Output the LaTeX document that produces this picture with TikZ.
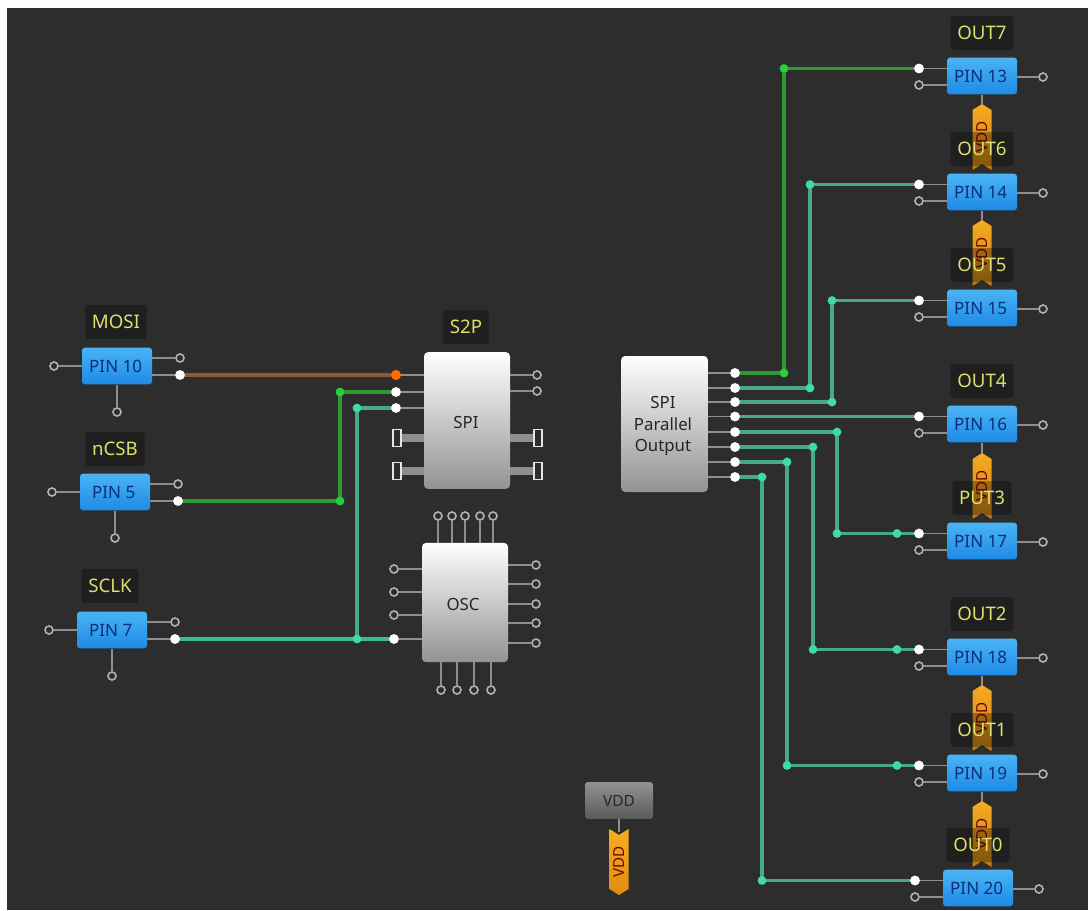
\documentclass[tikz,border=0pt]{standalone}
\usepackage{fontspec}
\setmainfont{Noto Sans}
\pgfdeclarelayer{wires}
\pgfdeclarelayer{labels}
\pgfsetlayers{wires,main,labels}
\definecolor{bgc}{HTML}{2D2D2D}
\definecolor{yel}{HTML}{DDE06A}
\definecolor{pinblue}{HTML}{0B2F78}
\definecolor{pintop}{HTML}{4AB4F4}
\definecolor{pinbot}{HTML}{1E8AE6}
\definecolor{hollow}{HTML}{B4B4B4}
\definecolor{stubc}{HTML}{8E8E8E}
\definecolor{teal}{HTML}{46A98A}
\definecolor{tealdot}{HTML}{3FDC9C}
\definecolor{sclk}{HTML}{38BE8C}
\definecolor{greenw}{HTML}{2E9A33}
\definecolor{greendot}{HTML}{25D03A}
\definecolor{brownw}{HTML}{8C5A34}
\definecolor{tagtop}{HTML}{F8AC22}
\definecolor{tagbot}{HTML}{C07C12}
\definecolor{tagbotb}{HTML}{E08C12}
\tikzset{
  x=0.75pt,y=-0.75pt,
  pinbox/.style={rectangle,rounded corners=2.2pt,minimum width=52.5pt,minimum height=27.5pt,inner sep=0pt,
    top color=pintop,bottom color=pinbot,text=pinblue,font=\fontsize{12.8}{14}\selectfont},
  greybox/.style={rectangle,rounded corners=3pt,inner sep=0pt,top color=white,bottom color=gray!85},
  blocktext/.style={inner sep=0pt,text=black!85,align=center,font=\fontsize{12.6}{16.2}\selectfont},
  vddbox/.style={rectangle,rounded corners=2pt,inner sep=0pt,minimum width=51pt,minimum height=27.5pt,
    top color=gray!85,bottom color=gray!70!black,text=black!85,font=\fontsize{11.6}{14}\selectfont},
  hport/.style={circle,inner sep=0pt,minimum size=6pt,draw=hollow,line width=1.2pt,fill=bgc},
  wport/.style={circle,inner sep=0pt,minimum size=7.4pt,fill=white},
  oport/.style={circle,inner sep=0pt,minimum size=7.6pt,fill=orange!85!red},
  rport/.style={rectangle,inner sep=0pt,minimum width=6pt,minimum height=13pt,draw=white!90!black,line width=0.9pt,fill=bgc},
  stub/.style={draw=stubc,line width=1.1pt},
  fatstub/.style={draw=stubc,line width=6pt},
  wire/.style={line width=2.4pt,draw=#1},
  jdot/.style={circle,inner sep=0pt,minimum size=6.6pt,fill=#1},
  lbl/.style={rectangle,rounded corners=2pt,fill=black,fill opacity=0.3,text opacity=1,text=yel,
    minimum height=25.5pt,inner xsep=5pt,font=\fontsize{14}{15}\selectfont},
  tagtext/.style={rotate=90,text=red!45!black,inner sep=0pt,font=\fontsize{11.4}{13}\selectfont},
}
\newcommand{\pintext}[1]{\raisebox{-1.2pt}{\hspace{-2pt}#1}}
% left pin: id, cx, cy, text, label, label x, label y
\newcommand{\leftpin}[7]{%
  \node[hport] (#1L) at (#2-63,#3) {};
  \node[hport] (#1A) at (#2+63,#3-8) {};
  \node[wport] (#1B) at (#2+63,#3+9) {};
  \node[hport] (#1D) at (#2,#3+46) {};
  \node[pinbox] (#1) at (#2,#3) {\pintext{#4}};
  \begin{pgfonlayer}{wires}
    \draw[stub] (#1L) -- (#1);
    \draw[stub] (#1A) -- (#1A -| #1.east);
    \draw[stub] (#1B) -- (#1B -| #1.east);
    \draw[stub] (#1D) -- (#1);
  \end{pgfonlayer}
  \begin{pgfonlayer}{labels}\node[lbl] (#1T) at (#6,#7) {#5};\end{pgfonlayer}
}
% right pin: id, cx, cy, text, label
\newcommand{\rightpin}[5]{%
  \node[wport] (#1A) at (#2-63,#3-7.5) {};
  \node[hport] (#1B) at (#2-63,#3+9) {};
  \node[hport] (#1R) at (#2+61,#3+1) {};
  \node[pinbox] (#1) at (#2,#3) {\pintext{#4}};
  \begin{pgfonlayer}{wires}
    \draw[stub] (#1A) -- (#1A -| #1.west);
    \draw[stub] (#1B) -- (#1B -| #1.west);
    \draw[stub] (#1R) -- (#1R -| #1.east);
  \end{pgfonlayer}
  \begin{pgfonlayer}{labels}\node[lbl] (#1T) at (#2,#3-43) {#5};\end{pgfonlayer}
}
% downward tag below a pin: pin id, cx, top y
\newcommand{\vddtag}[3]{%
  \shade[top color=tagtop,bottom color=tagbot]
    (#2-9.5,#3+6) -- (#2,#3) -- (#2+9.5,#3+6) -- (#2+9.5,#3+66) -- (#2,#3+60) -- (#2-9.5,#3+66) -- cycle;
  \coordinate (#1tagtop) at (#2,#3);
  \node[tagtext] (#1tagtext) at (#2,#3+33) {VDD};
  \begin{pgfonlayer}{wires}\draw[stub] (#1) -- (#1tagtop);\end{pgfonlayer}
}
\begin{document}
\begin{tikzpicture}
\useasboundingbox (0,0) rectangle (1088,910);
\begin{pgfonlayer}{wires}
\fill[white] (0,0) rectangle (1088,910);
\fill[bgc] (7,8) rectangle (1088,910);
\end{pgfonlayer}

% Left pins
\leftpin{pa}{117}{366}{PIN 10}{MOSI}{116}{322}
\leftpin{pb}{115}{492}{PIN 5}{nCSB}{115}{449}
\leftpin{pc}{112}{630}{PIN 7}{SCLK}{110}{586}

% SPI block
\node[greybox,minimum width=64.5pt,minimum height=102.5pt] (spi) at (467,420.5) {};
\node[blocktext] (spitext) at (466,422) {SPI};
\node[oport] (si1) at (396,375) {};
\node[wport] (si2) at (396,392) {};
\node[wport] (si3) at (396,408) {};
\node[rport] (si4) at (397,438) {};
\node[rport] (si5) at (397,471) {};
\node[hport] (so1) at (537,375) {};
\node[hport] (so2) at (537,391) {};
\node[rport] (so3) at (538,438) {};
\node[rport] (so4) at (538,471) {};
\begin{pgfonlayer}{wires}
  \foreach \p in {si1,si2,si3} \draw[stub] (\p) -- (\p -| spi.west);
  \foreach \p in {so1,so2} \draw[stub] (\p) -- (\p -| spi.east);
  \foreach \p in {si4,si5} \draw[fatstub] (\p) -- (\p -| spi.west);
  \foreach \p in {so3,so4} \draw[fatstub] (\p) -- (\p -| spi.east);
\end{pgfonlayer}
\begin{pgfonlayer}{labels}\node[lbl] (s2p) at (466,327) {S2P};\end{pgfonlayer}

% OSC block
\node[greybox,minimum width=64.5pt,minimum height=89.5pt] (osc) at (465,602.5) {};
\node[blocktext] (osctext) at (463,604) {OSC};
\foreach \i/\x in {1/438,2/452,3/465,4/480,5/493} {
  \node[hport] (ot\i) at (\x,516) {};
  \begin{pgfonlayer}{wires}\draw[stub] (ot\i) -- (ot\i |- osc.north);\end{pgfonlayer}
}
\foreach \i/\x in {1/441,2/457,3/474,4/491} {
  \node[hport] (ob\i) at (\x,690) {};
  \begin{pgfonlayer}{wires}\draw[stub] (ob\i) -- (ob\i |- osc.south);\end{pgfonlayer}
}
\foreach \i/\y in {1/569,2/592,3/615} {
  \node[hport] (ol\i) at (394,\y) {};
  \begin{pgfonlayer}{wires}\draw[stub] (ol\i) -- (ol\i -| osc.west);\end{pgfonlayer}
}
\node[wport] (ol4) at (394,639) {};
\begin{pgfonlayer}{wires}\draw[stub] (ol4) -- (ol4 -| osc.west);\end{pgfonlayer}
\foreach \i/\y in {1/565,2/584,3/604,4/623,5/643} {
  \node[hport] (or\i) at (536,\y) {};
  \begin{pgfonlayer}{wires}\draw[stub] (or\i) -- (or\i -| osc.east);\end{pgfonlayer}
}

% SPI Parallel Output block
\node[greybox,minimum width=65pt,minimum height=102pt] (par) at (664.5,424) {};
\node[blocktext] (partext) at (663,426) {SPI\\Parallel\\Output};
\foreach \i/\y in {1/373,2/388,3/402,4/416.5,5/432,6/447,7/462,8/477} {
  \node[wport] (q\i) at (735,\y) {};
  \begin{pgfonlayer}{wires}\draw[stub] (q\i) -- (q\i -| par.east);\end{pgfonlayer}
}

% Right pins
\rightpin{r7}{982}{76}{PIN 13}{OUT7}
\rightpin{r6}{982}{192}{PIN 14}{OUT6}
\rightpin{r5}{982}{308}{PIN 15}{OUT5}
\rightpin{r4}{982}{424}{PIN 16}{OUT4}
\rightpin{r3}{982}{541}{PIN 17}{PUT3}
\rightpin{r2}{982}{657}{PIN 18}{OUT2}
\rightpin{r1}{982}{773}{PIN 19}{OUT1}
\rightpin{r0}{978}{888}{PIN 20}{OUT0}

% VDD tags under pins
\vddtag{r7}{982}{104}
\vddtag{r6}{982}{220}
\vddtag{r4}{982}{453}
\vddtag{r2}{982}{685}
\vddtag{r1}{982}{801}

% VDD block
\node[vddbox] (vdd) at (619,800.5) {\raisebox{-1.2pt}{VDD}};
\shade[top color=tagtop,bottom color=tagbotb]
  (609.5,829) -- (619,835) -- (628.5,829) -- (628.5,889) -- (619,895) -- (609.5,889) -- cycle;
\coordinate (vddtop) at (619,832);
\node[tagtext] (vddtext) at (619,862) {VDD};
\draw[stub] (vdd) -- (vddtop);

% Junctions
\foreach \n/\x/\y/\c in {
  ja/340/501/greendot, jb/340/392/greendot, jc/357/639/tealdot, jd/357/408/tealdot,
  e1/784/373/greendot, e2/784/68.5/greendot,
  f1/810/388/tealdot, f2/810/184.5/tealdot,
  g1/832/402/tealdot, g2/832/300.5/tealdot,
  h1/837/432/tealdot, h2/837/533.5/tealdot, h3/897/533.5/tealdot,
  i1/813/447/tealdot, i2/813/649.5/tealdot, i3/897/649.5/tealdot,
  k1/787/462/tealdot, k2/787/765.5/tealdot, k3/897/765.5/tealdot,
  m1/762/477/tealdot, m2/762/880.5/tealdot} {
  \node[jdot=\c] (\n) at (\x,\y) {};
}

% Wires
\begin{pgfonlayer}{wires}
  \draw[wire=brownw] (paB.center) -- (si1.center);
  \draw[wire=greenw] (pbB.center) -- (ja.center) -- (jb.center) -- (si2.center);
  \draw[wire=sclk] (pcB.center) -- (ol4.center);
  \draw[wire=teal] (jc.center) -- (jd.center) -- (si3.center);
  \draw[wire=greenw] (q1.center) -- (e1.center) -- (e2.center) -- (r7A.center);
  \draw[wire=teal] (q2.center) -- (f1.center) -- (f2.center) -- (r6A.center);
  \draw[wire=teal] (q3.center) -- (g1.center) -- (g2.center) -- (r5A.center);
  \draw[wire=teal] (q4.center) -- (r4A.center);
  \draw[wire=teal] (q5.center) -- (h1.center) -- (h2.center) -- (r3A.center);
  \draw[wire=teal] (q6.center) -- (i1.center) -- (i2.center) -- (r2A.center);
  \draw[wire=teal] (q7.center) -- (k1.center) -- (k2.center) -- (r1A.center);
  \draw[wire=teal] (q8.center) -- (m1.center) -- (m2.center) -- (r0A.center);
\end{pgfonlayer}
\end{tikzpicture}
\end{document}
